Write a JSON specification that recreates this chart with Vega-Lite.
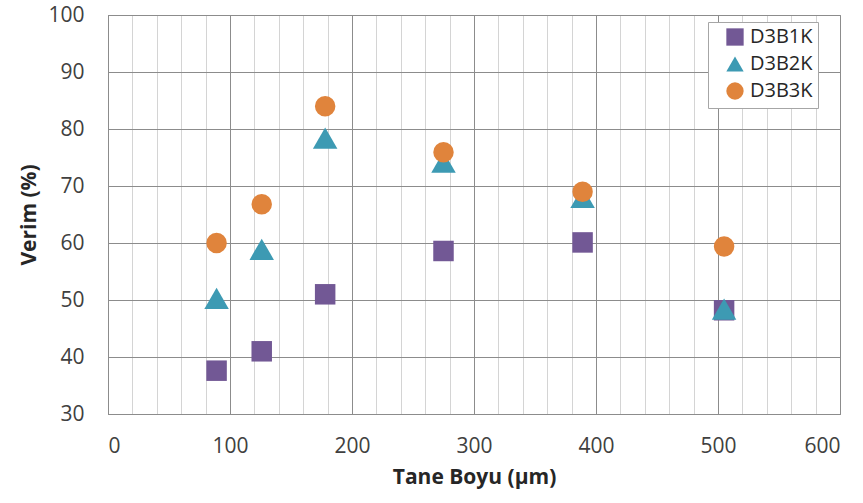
{
  "$schema": "https://vega.github.io/schema/vega-lite/v6.json",
  "width": 732,
  "height": 399,
  "autosize": {"type": "none"},
  "padding": {"left": 108, "top": 15, "right": 23, "bottom": 89},
  "config": {
    "font": "Open Sans",
    "view": {"stroke": "#8c8c8c", "strokeWidth": 1},
    "axis": {"labelFont": "Open Sans", "titleFont": "Open Sans"}
  },
  "data": {
    "values": [
      {"size": 89, "verim": 37.6, "seri": "D3B1K"},
      {"size": 126, "verim": 41.0, "seri": "D3B1K"},
      {"size": 178, "verim": 51.0, "seri": "D3B1K"},
      {"size": 275, "verim": 58.6, "seri": "D3B1K"},
      {"size": 389, "verim": 60.1, "seri": "D3B1K"},
      {"size": 505, "verim": 48.2, "seri": "D3B1K"},
      {"size": 89, "verim": 50.3, "seri": "D3B2K"},
      {"size": 126, "verim": 58.9, "seri": "D3B2K"},
      {"size": 178, "verim": 78.4, "seri": "D3B2K"},
      {"size": 275, "verim": 74.2, "seri": "D3B2K"},
      {"size": 389, "verim": 68.0, "seri": "D3B2K"},
      {"size": 505, "verim": 48.4, "seri": "D3B2K"},
      {"size": 89, "verim": 60.0, "seri": "D3B3K"},
      {"size": 126, "verim": 66.8, "seri": "D3B3K"},
      {"size": 178, "verim": 84.0, "seri": "D3B3K"},
      {"size": 275, "verim": 75.9, "seri": "D3B3K"},
      {"size": 389, "verim": 69.0, "seri": "D3B3K"},
      {"size": 505, "verim": 59.4, "seri": "D3B3K"}
    ]
  },
  "encoding": {
    "x": {
      "field": "size", "type": "quantitative",
      "scale": {"domain": [0, 600], "nice": false, "zero": false},
      "axis": {
        "title": "Tane Boyu (µm)",
        "titleFontSize": 21, "titleFontWeight": "bold", "titleColor": "#262626", "titlePadding": 10,
        "values": [0,20,40,60,80,100,120,140,160,180,200,220,240,260,280,300,320,340,360,380,400,420,440,460,480,500,520,540,560,580,600],
        "labelExpr": "datum.value % 100 === 0 ? datum.label : ''",
        "labelOverlap": false,
        "labelFontSize": 21, "labelColor": "#404040", "labelPadding": 21,
        "ticks": false, "domain": true, "domainColor": "#8c8c8c",
        "grid": true,
        "gridColor": {"condition": {"test": "datum.value % 100 === 0", "value": "#8c8c8c"}, "value": "#d4d4d4"},
        "gridWidth": 1
      }
    },
    "y": {
      "field": "verim", "type": "quantitative",
      "scale": {"domain": [30, 100], "nice": false, "zero": false},
      "axis": {
        "title": "Verim (%)",
        "titleFontSize": 21, "titleFontWeight": "bold", "titleColor": "#262626", "titlePadding": 8,
        "values": [30,40,50,60,70,80,90,100],
        "labelFontSize": 21, "labelColor": "#404040", "labelPadding": 24,
        "ticks": false, "domain": true, "domainColor": "#8c8c8c",
        "grid": true, "gridColor": "#8c8c8c"
      }
    },
    "color": {
      "field": "seri", "type": "nominal",
      "scale": {"domain": ["D3B1K", "D3B2K", "D3B3K"], "range": ["#725895", "#3d9ab3", "#e0843c"]},
      "legend": {
        "title": null, "orient": "none", "legendX": 600, "legendY": 7,
        "labelFontSize": 20, "labelColor": "#262626", "symbolSize": 300,
        "strokeColor": "#a6a6a6", "fillColor": "white", "padding": 5, "rowPadding": 4,
        "symbolOffset": 12, "labelOffset": 5,
        "symbolOpacity": 1
      }
    },
    "shape": {
      "field": "seri", "type": "nominal",
      "scale": {"domain": ["D3B1K", "D3B2K", "D3B3K"], "range": ["square", "triangle-up", "circle"]}
    }
  },
  "layer": [
    {
      "transform": [{"filter": "datum.seri === 'D3B1K'"}],
      "mark": {"type": "point", "filled": true, "opacity": 1, "size": 420}
    },
    {
      "transform": [{"filter": "datum.seri === 'D3B2K'"}],
      "mark": {"type": "point", "filled": true, "opacity": 1, "size": 600}
    },
    {
      "transform": [{"filter": "datum.seri === 'D3B3K'"}],
      "mark": {"type": "point", "filled": true, "opacity": 1, "size": 420}
    }
  ]
}
